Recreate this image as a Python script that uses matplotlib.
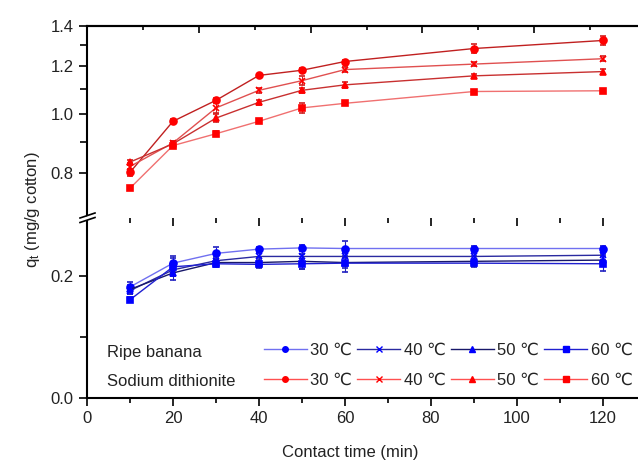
import numpy as np
import matplotlib
matplotlib.use("Agg")
import matplotlib.pyplot as plt
from matplotlib.lines import Line2D
from matplotlib.patches import Polygon
from matplotlib.ticker import FixedLocator, MultipleLocator, FormatStrFormatter, NullFormatter

plt.rcParams['font.family'] = ['Liberation Sans', 'DejaVu Sans']
plt.rcParams['mathtext.fontset'] = 'custom'
plt.rcParams['mathtext.rm'] = 'Liberation Sans'
plt.rcParams['mathtext.it'] = 'Liberation Sans'

# contact time (min)
time = [10, 20, 30, 40, 50, 60, 90, 120]
temps = ['30 \u2103', '40 \u2103', '50 \u2103', '60 \u2103']

# sodium dithionite, q_t (mg/g cotton)
sd_30 = [0.802, 0.974, 1.055, 1.160, 1.183, 1.223, 1.285, 1.325]
sd_40 = [0.820, 0.897, 1.025, 1.096, 1.137, 1.186, 1.211, 1.236]
sd_50 = [0.834, 0.894, 0.986, 1.047, 1.096, 1.119, 1.158, 1.177]
sd_60 = [0.755, 0.888, 0.929, 0.974, 1.025, 1.043, 1.091, 1.094]
sd_30_err = [0.010, 0.008, 0.008, 0.005, 0.010, 0.008, 0.020, 0.025]
sd_40_err = [0.010, 0.008, 0.020, 0.010, 0.020, 0.010, 0.008, 0.012]
sd_50_err = [0.008, 0.008, 0.015, 0.010, 0.010, 0.012, 0.008, 0.012]
sd_60_err = [0.006, 0.008, 0.008, 0.006, 0.020, 0.006, 0.008, 0.008]

# ripe banana, q_t (mg/g cotton)
rb_30 = [0.182, 0.221, 0.237, 0.244, 0.246, 0.245, 0.245, 0.245]
rb_40 = [0.176, 0.210, 0.225, 0.232, 0.232, 0.232, 0.232, 0.234]
rb_50 = [0.178, 0.205, 0.222, 0.222, 0.224, 0.222, 0.224, 0.226]
rb_60 = [0.161, 0.215, 0.220, 0.219, 0.220, 0.221, 0.221, 0.220]
rb_30_err = [0.008, 0.012, 0.010, 0.004, 0.005, 0.012, 0.004, 0.004]
rb_40_err = [0.006, 0.010, 0.006, 0.006, 0.010, 0.008, 0.006, 0.008]
rb_50_err = [0.008, 0.012, 0.006, 0.008, 0.012, 0.015, 0.008, 0.010]
rb_60_err = [0.004, 0.015, 0.006, 0.006, 0.008, 0.008, 0.006, 0.012]

markers = ['o', 'x', '^', 's']
sd_vals = [sd_30, sd_40, sd_50, sd_60]
sd_errs = [sd_30_err, sd_40_err, sd_50_err, sd_60_err]
rb_vals = [rb_30, rb_40, rb_50, rb_60]
rb_errs = [rb_30_err, rb_40_err, rb_50_err, rb_60_err]
sd_line = ['#c02020', '#e05050', '#c83030', '#f07070']
rb_line = ['#7070f0', '#2a2aa0', '#18186a', '#2020d0']

W, H = 638, 463
fig = plt.figure(figsize=(W / 100, H / 100), dpi=100)

def px(x0, y0, x1, y1):
    # pixel box (top-left origin) -> figure fraction rect
    return [x0 / W, 1 - y1 / H, (x1 - x0) / W, (y1 - y0) / H]

ax_lo = fig.add_axes(px(87, 218, 646, 398))
ax_hi = fig.add_axes(px(87, 26, 646, 218), sharex=ax_lo)

for vals, errs, m, c in zip(sd_vals, sd_errs, markers, sd_line):
    ax_hi.errorbar(time, vals, yerr=errs, color=c, lw=1, marker=m, ms=5 if m != 'x' else 4,
                   mfc='red', mec='red', mew=1.2, ecolor='#d02020', elinewidth=0.8, capsize=2.5)
for vals, errs, m, c in zip(rb_vals, rb_errs, markers, rb_line):
    ax_lo.errorbar(time, vals, yerr=errs, color=c, lw=1, marker=m, ms=5 if m != 'x' else 4,
                   mfc='blue', mec='blue', mew=1.2, ecolor='#2020c0', elinewidth=0.8, capsize=2.5)

ax_lo.set_xlim(0, 130)
ax_lo.set_ylim(0, 0.295)
ax_lo.xaxis.set_major_locator(MultipleLocator(20))
ax_lo.xaxis.set_minor_locator(MultipleLocator(10))
ax_lo.yaxis.set_major_locator(FixedLocator([0.0, 0.2]))
ax_lo.yaxis.set_minor_locator(FixedLocator([0.1]))
ax_lo.yaxis.set_major_formatter(FormatStrFormatter('%.1f'))

ax_hi.set_yscale('log')
ax_hi.set_ylim(0.674, 1.4)
ax_hi.yaxis.set_major_locator(FixedLocator([0.8, 1.0, 1.2, 1.4]))
ax_hi.yaxis.set_minor_locator(FixedLocator([0.9, 1.1, 1.3]))
ax_hi.yaxis.set_major_formatter(FormatStrFormatter('%.1f'))
ax_hi.yaxis.set_minor_formatter(NullFormatter())

for a in (ax_lo, ax_hi):
    a.spines['right'].set_visible(False)
    for s in a.spines.values():
        s.set_linewidth(1.5)
    a.tick_params(axis='both', which='major', direction='out', length=6, width=1.2,
                  labelsize=12, labelcolor='#222222')
    a.tick_params(axis='both', which='minor', direction='out', length=3.5, width=1.2)
ax_lo.spines['top'].set_visible(False)
ax_hi.spines['bottom'].set_visible(False)
ax_hi.tick_params(axis='x', which='both', bottom=False, labelbottom=False)
ax_hi.tick_params(axis='y', which='minor', length=5)
ax_lo.tick_params(axis='y', which='minor', length=5)

# top axis ticks (no labels)
tw = ax_hi.twiny()
tw.set_xlim(0, 100)
tw.xaxis.set_major_locator(MultipleLocator(20))
tw.xaxis.set_minor_locator(MultipleLocator(10))
tw.tick_params(axis='x', which='major', direction='in', length=5, width=1.2, labeltop=False)
tw.tick_params(axis='x', which='minor', direction='in', length=3, width=1.2)
for k in ('left', 'right', 'bottom'):
    tw.spines[k].set_visible(False)
tw.spines['top'].set_linewidth(1.5)

# axis break marks
def fp(x, y):
    return (x / W, 1 - y / H)
gap = Polygon([fp(80, 218.5), fp(95, 213.5), fp(95, 217.5), fp(80, 222.5)], closed=True,
              transform=fig.transFigure, facecolor='white', edgecolor='none', zorder=10)
fig.add_artist(gap)
for dy in (0, 4.5):
    fig.add_artist(Line2D([80 / W, 95 / W], [1 - (218 + dy) / H, 1 - (213 + dy) / H],
                          transform=fig.transFigure, color='black', lw=1.2, zorder=11))

fig.text(350 / W, 1 - 452 / H, 'Contact time (min)', ha='center', va='center',
         fontsize=12, color='#222222')
fig.text(32 / W, 1 - 210 / H, r'q$_\mathrm{t}$ (mg/g cotton)', ha='center', va='center',
         rotation=90, fontsize=12, color='#222222')

# legend
handles, labels = [], []
for i, m in enumerate(markers):
    handles.append(Line2D([], [], color=rb_line[i], lw=1, marker=m, ms=4, mfc='blue', mec='blue'))
    labels.append(temps[i])
    handles.append(Line2D([], [], color='#ff5050', lw=1, marker=m, ms=4, mfc='red', mec='red'))
    labels.append(temps[i])
leg = ax_lo.legend(handles, labels, ncol=4, frameon=False, fontsize=12,
                   loc='lower right', bbox_to_anchor=(644 / W, 1 - 399 / H),
                   bbox_transform=fig.transFigure, handlelength=2.6, handletextpad=0.2,
                   columnspacing=0.3, labelspacing=0.9, borderpad=0.2)
for t in leg.get_texts():
    t.set_color('#222222')
fig.text(107 / W, 1 - 353 / H, 'Ripe banana', ha='left', va='center', fontsize=12, color='#222222')
fig.text(107 / W, 1 - 382 / H, 'Sodium dithionite', ha='left', va='center', fontsize=12, color='#222222')

fig.savefig('out.png', dpi=100)
